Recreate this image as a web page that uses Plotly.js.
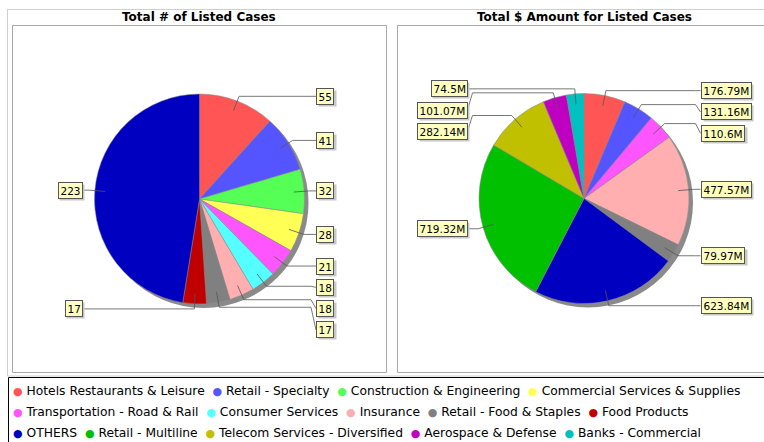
<!DOCTYPE html>
<html><head><meta charset="utf-8">
<script src="https://cdn.plot.ly/plotly-3.0.1.min.js"></script>
<style>html,body{margin:0;padding:0;background:#fff;} #chart{width:764px;height:442px;}</style>
</head><body><div id="chart"></div>
<script>
// ---- data ----
const legendCategories = ['Hotels Restaurants & Leisure','Retail - Specialty','Construction & Engineering','Commercial Services & Supplies',
  'Transportation - Road & Rail','Consumer Services','Insurance','Retail - Food & Staples','Food Products',
  'OTHERS','Retail - Multiline','Telecom Services - Diversified','Aerospace & Defense','Banks - Commercial'];
const legendColors = ['#FF5555','#5555FF','#55FF55','#FFFF55','#FF55FF','#55FFFF','#FFAFAF','#808080','#C00000',
  '#0000C0','#00C000','#C0C000','#C000C0','#00C0C0'];
const leftTitle = 'Total # of Listed Cases';
const rightTitle = 'Total $ Amount for Listed Cases';
const leftCategories = ['Hotels Restaurants & Leisure','Retail - Specialty','Construction & Engineering','Commercial Services & Supplies',
  'Transportation - Road & Rail','Consumer Services','Insurance','Retail - Food & Staples','Food Products','OTHERS'];
const leftValues = [55,41,32,28,21,18,18,17,17,223];
const rightCategories = ['Hotels Restaurants & Leisure','Retail - Specialty','Transportation - Road & Rail','Insurance',
  'Retail - Food & Staples','OTHERS','Retail - Multiline','Telecom Services - Diversified','Aerospace & Defense','Banks - Commercial'];
const rightValues = [176.79,131.16,110.6,477.57,79.97,623.84,719.32,282.14,101.07,74.5];
const rightUnit = 'M';
const legendRowStarts = [0,4,9,14];

// ---- layout helpers ----
const W=764, H=442;
const X = px => px/W, Y = py => 1 - py/H;
const FONT = 'DejaVu Sans';
const LABEL_SIZE = 10.5;
const colorOf = c => legendColors[legendCategories.indexOf(c)];
const esc = s => s.replace(/&/g,'&amp;');
const ctx = document.createElement('canvas').getContext('2d');
ctx.font = LABEL_SIZE + 'px "' + FONT + '"';
const R = 105;
const pies = [
  {cats:leftCategories, vals:leftValues, cx:199.5, cy:199, fmt:v=>String(v), title:leftTitle},
  {cats:rightCategories, vals:rightValues, cx:584, cy:198.5, fmt:v=>v+rightUnit, title:rightTitle}
];
const data=[], shapes=[], annotations=[];

// frames
shapes.push({type:'rect', xref:'paper', yref:'paper', x0:X(7.5), x1:X(790), y0:Y(9.5), y1:Y(376), line:{color:'#cfcfcf', width:1}, layer:'below'});
shapes.push({type:'rect', xref:'paper', yref:'paper', x0:X(12.5), x1:X(386.5), y0:Y(25.5), y1:Y(372.5), line:{color:'#a8a8a8', width:1}, layer:'below'});
shapes.push({type:'rect', xref:'paper', yref:'paper', x0:X(397.5), x1:X(790), y0:Y(25.5), y1:Y(372.5), line:{color:'#a8a8a8', width:1}, layer:'below'});
shapes.push({type:'rect', xref:'paper', yref:'paper', x0:X(8.5), x1:X(790), y0:Y(377.5), y1:Y(470), line:{color:'#000', width:1}, layer:'below'});

pies.forEach(p=>{
  const total = p.vals.reduce((a,b)=>a+b,0);
  const dom = {x:[X(p.cx-R), X(p.cx+R)], y:[Y(p.cy+R), Y(p.cy-R)]};
  const domS = {x:[X(p.cx-R+4), X(p.cx+R+4)], y:[Y(p.cy+R+4), Y(p.cy-R+4)]};
  data.push({type:'pie', values:[total], labels:['shadow '+p.title], marker:{colors:['#8a8a8a']}, domain:domS,
    textinfo:'none', hoverinfo:'skip', showlegend:false, sort:false});
  data.push({type:'pie', values:p.vals, labels:p.cats, marker:{colors:p.cats.map(colorOf), line:{color:'#8a8a8a', width:0.5}},
    domain:dom, sort:false, direction:'clockwise', rotation:0, textinfo:'none', hoverinfo:'label+value', showlegend:false});

  // title
  annotations.push({xref:'paper', yref:'paper', x:X(p.cx), y:Y(17), text:'<b>'+esc(p.title)+'</b>', showarrow:false,
    xanchor:'center', yanchor:'middle', font:{family:FONT, size:12, color:'#000'}});

  // labels
  let cum = 0;
  const items = p.vals.map((v,i)=>{
    const a = (cum + v/2)/total*2*Math.PI; cum += v;
    const s = Math.sin(a), c = Math.cos(a);
    return {v, side: s>=0?1:-1, ix:p.cx+0.9*R*s, iy:p.cy-0.9*R*c, lx:p.cx+1.048*R*s, ly:p.cy-1.048*R*c};
  });
  [1,-1].forEach(side=>{
    const g = items.filter(t=>t.side===side).sort((a,b)=>a.ly-b.ly);
    let prev = -1e9;
    g.forEach(t=>{ t.y = Math.max(t.ly, prev+21.3); prev = t.y; });
  });
  items.forEach(t=>{
    const bx = p.cx + t.side*116.5;
    const ex = bx - t.side*5;
    const label = p.fmt(t.v);
    shapes.push({type:'path', xref:'paper', yref:'paper', layer:'above',
      path:`M${X(t.ix)},${Y(t.iy)} L${X(t.lx)},${Y(t.ly)} L${X(ex)},${Y(t.ly)} L${X(bx)},${Y(t.y)}`,
      line:{color:'#555', width:0.8}});
    const base = {xref:'paper', yref:'paper', x:X(bx), y:Y(t.y), xanchor:t.side>0?'left':'right', yanchor:'middle',
      showarrow:false, borderpad:1.5, borderwidth:1};
    // drop shadow box (no text)
    annotations.push(Object.assign({}, base, {text:'\u00a0', width:Math.ceil(ctx.measureText(label).width), height:12,
      font:{family:FONT, size:LABEL_SIZE, color:'rgba(0,0,0,0)'},
      bgcolor:'#c8c8c8', bordercolor:'rgba(0,0,0,0)', xshift:2, yshift:-2}));
    annotations.push(Object.assign({}, base, {text:label, font:{family:FONT, size:LABEL_SIZE, color:'#000'},
      bgcolor:'#FFFFC0', bordercolor:'#555'}));
  });
});

// legend rows
const rowYs = [391, 411.5, 432.5];
for(let r=0; r<legendRowStarts.length-1; r++){
  const cats = legendCategories.slice(legendRowStarts[r], legendRowStarts[r+1]);
  const txt = cats.map(c=>`<span style="color:${colorOf(c)};font-size:11px">\u25CF</span>\u00a0${esc(c)}`).join('\u00a0\u00a0');
  annotations.push({xref:'paper', yref:'paper', x:X(11), y:Y(rowYs[r]), xanchor:'left', yanchor:'middle', text:txt,
    showarrow:false, font:{family:FONT, size:12.3, color:'#000'}});
}

Plotly.newPlot('chart', data, {
  width:W, height:H, margin:{l:0,r:0,t:0,b:0}, paper_bgcolor:'#fff', plot_bgcolor:'#fff',
  showlegend:false, shapes, annotations
}, {displayModeBar:false, staticPlot:true});
</script></body></html>
